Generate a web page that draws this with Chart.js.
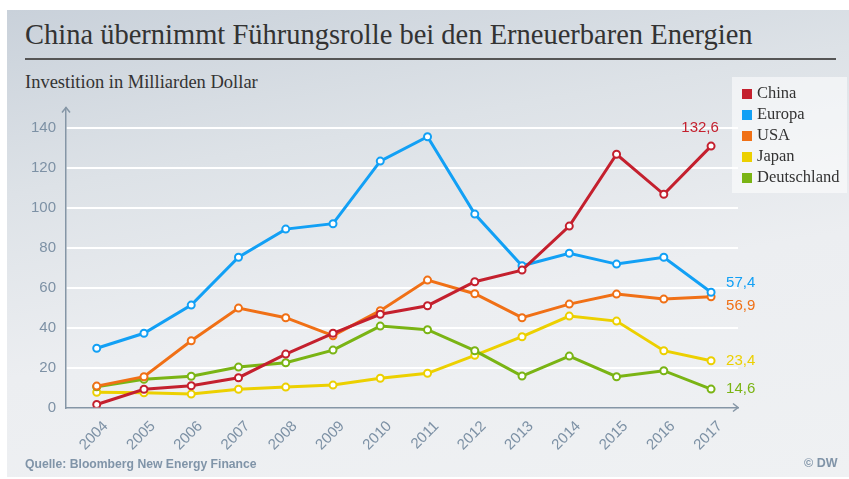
<!DOCTYPE html>
<html>
<head>
<meta charset="utf-8">
<script src="https://cdn.jsdelivr.net/npm/chart.js@4"></script>
<style>
  html, body { margin: 0; padding: 0; background: #fff; }
  body { width: 849px; height: 479px; position: relative; overflow: hidden; }
  #panel {
    position: absolute; left: 7px; top: 10px; width: 842px; height: 467px;
    background: linear-gradient(170deg, #c9d1da 0%, #dde2e7 30%, #eceef1 60%, #eff1f3 100%);
  }
  #title {
    position: absolute; left: 25px; top: 19px; font-family: "Liberation Serif", serif;
    font-size: 28.5px; color: #333; white-space: nowrap;
  }
  #rule { position: absolute; left: 25px; top: 58px; width: 811px; height: 2px; background: #555; }
  #subtitle {
    position: absolute; left: 25px; top: 72px; font-family: "Liberation Serif", serif;
    font-size: 18.5px; color: #333; white-space: nowrap;
  }
  #legend {
    position: absolute; left: 732px; top: 77px; width: 115px; height: 116px;
    background: rgba(255,255,255,0.55);
  }
  .item { position: absolute; left: 10px; font-family: "Liberation Serif", serif; font-size: 16.5px; color: #333; line-height: 20px; white-space: nowrap; }
  .item span { display: inline-block; width: 10px; height: 10px; margin-right: 5px; vertical-align: -1px; }
  #source { position: absolute; left: 25px; top: 457px; font-family: "Liberation Sans", Arial, sans-serif; font-weight: bold; font-size: 12.2px; color: #8094a8; }
  #dw { position: absolute; left: 804px; top: 456px; font-family: "Liberation Sans", Arial, sans-serif; font-weight: bold; font-size: 12.5px; color: #8094a8; }
  canvas { position: absolute; left: 0; top: 0; }
</style>
</head>
<body>
<div id="panel"></div>
<div id="title">China übernimmt Führungsrolle bei den Erneuerbaren Energien</div>
<div id="rule"></div>
<div id="subtitle">Investition in Milliarden Dollar</div>
<canvas id="chart" width="849" height="479"></canvas>
<div id="legend"></div>
<div id="source">Quelle: Bloomberg New Energy Finance</div>
<div id="dw">© DW</div>
<script>
// Daten (Milliarden Dollar)
const years = [2004, 2005, 2006, 2007, 2008, 2009, 2010, 2011, 2012, 2013, 2014, 2015, 2016, 2017];
const china = [1.5, 9.1, 10.9, 14.9, 26.7, 37.1, 46.6, 50.9, 62.9, 68.7, 90.7, 126.6, 106.6, 130.7];
const europa = [29.6, 37.1, 51.2, 75.1, 89.2, 91.9, 123.2, 135.4, 96.7, 70.9, 77.1, 71.7, 75.1, 57.6];
const usa = [10.7, 15.4, 33.4, 49.7, 44.9, 35.9, 48.4, 63.7, 56.9, 44.9, 51.7, 56.7, 54.2, 55.4];
const japan = [7.6, 7.4, 6.7, 9.1, 10.2, 11.2, 14.6, 17.1, 26.1, 35.4, 45.7, 43.2, 28.4, 23.4];
const deutschland = [10.4, 14.1, 15.6, 20.2, 22.4, 28.7, 40.7, 38.9, 28.4, 15.7, 25.7, 15.4, 18.4, 9.2];

const seriesNames = ['China', 'Europa', 'USA', 'Japan', 'Deutschland'];
const seriesColors = ['#c4202e', '#12a0f5', '#f07016', '#ecd000', '#7ab414'];
const endLabels = ['132,6', '57,4', '56,9', '23,4', '14,6'];
const yTicks = [0, 20, 40, 60, 80, 100, 120, 140];

const allSeries = [china, europa, usa, japan, deutschland];
const axisColor = '#8596a6';
const tickColor = '#7d91a5';

// Legende
const legend = document.getElementById('legend');
seriesNames.forEach((name, i) => {
  const div = document.createElement('div');
  div.className = 'item';
  div.style.top = (6 + i * 21) + 'px';
  div.innerHTML = '<span style="background:' + seriesColors[i] + '"></span>' + name;
  legend.appendChild(div);
});

// Pfeile an den Achsen + Endwerte
const extrasPlugin = {
  id: 'extras',
  afterDatasetsDraw(chart) {
    const ctx = chart.ctx;
    const a = chart.chartArea;
    ctx.save();
    ctx.strokeStyle = axisColor;
    ctx.lineWidth = 1.5;
    ctx.beginPath();
    ctx.moveTo(a.left - 4, a.top + 5); ctx.lineTo(a.left, a.top); ctx.lineTo(a.left + 4, a.top + 5);
    ctx.moveTo(a.right - 5, a.bottom - 4); ctx.lineTo(a.right, a.bottom); ctx.lineTo(a.right - 5, a.bottom + 4);
    ctx.stroke();

    ctx.font = '15px "Liberation Sans", Arial, sans-serif';
    ctx.textBaseline = 'middle';
    const offsets = [[-11, -18, 'center'], [15, -9, 'left'], [15, 9, 'left'], [15, 0, 'left'], [15, 0, 'left']];
    chart.data.datasets.forEach((ds, i) => {
      const meta = chart.getDatasetMeta(i);
      const last = meta.data[meta.data.length - 1];
      ctx.fillStyle = seriesColors[i];
      ctx.textAlign = offsets[i][2];
      ctx.fillText(endLabels[i], last.x + offsets[i][0], last.y + offsets[i][1]);
    });
    ctx.restore();
  }
};

const datasets = allSeries.map((values, i) => ({
  label: seriesNames[i],
  data: values.map((v, j) => ({ x: years[j], y: v })),
  borderColor: seriesColors[i],
  backgroundColor: '#ffffff',
  borderWidth: 3,
  pointRadius: 3.5,
  pointBorderWidth: 2,
  pointBorderColor: seriesColors[i],
  pointBackgroundColor: '#ffffff',
  tension: 0
}));
// China wird zuletzt gezeichnet (oben)
const drawOrder = [0, 1, 2, 4, 3];
datasets.forEach((ds, i) => { ds.order = drawOrder[i]; });

new Chart(document.getElementById('chart'), {
  type: 'line',
  data: { datasets },
  plugins: [extrasPlugin],
  options: {
    responsive: false,
    animation: false,
    layout: { padding: { left: 0, top: 107.5, right: 111, bottom: 0 } },
    plugins: { legend: { display: false }, tooltip: { enabled: false } },
    scales: {
      x: {
        type: 'linear',
        min: 2003.35,
        max: 2017.57,
        afterBuildTicks: (scale) => { scale.ticks = years.map(y => ({ value: y })); },
        afterFit: (scale) => { scale.height = 71.5; },
        grid: { display: false, drawTicks: false },
        border: { display: true, color: axisColor, width: 1.5 },
        ticks: {
          color: tickColor,
          font: { family: '"Liberation Sans", Arial, sans-serif', size: 15 },
          minRotation: 45,
          maxRotation: 45,
          padding: 10,
          labelOffset: 9,
          callback: (v) => String(v)
        }
      },
      y: {
        min: 0,
        max: 150,
        afterBuildTicks: (scale) => { scale.ticks = yTicks.map(v => ({ value: v })); },
        afterFit: (scale) => { scale.width = 66; },
        grid: {
          color: (c) => c.tick && c.tick.value === 0 ? 'rgba(0,0,0,0)' : '#ffffff',
          lineWidth: 2,
          drawTicks: false
        },
        border: { display: true, color: axisColor, width: 1.5 },
        ticks: {
          color: tickColor,
          font: { family: '"Liberation Sans", Arial, sans-serif', size: 15 },
          padding: 10
        }
      }
    }
  }
});
</script>
</body>
</html>
